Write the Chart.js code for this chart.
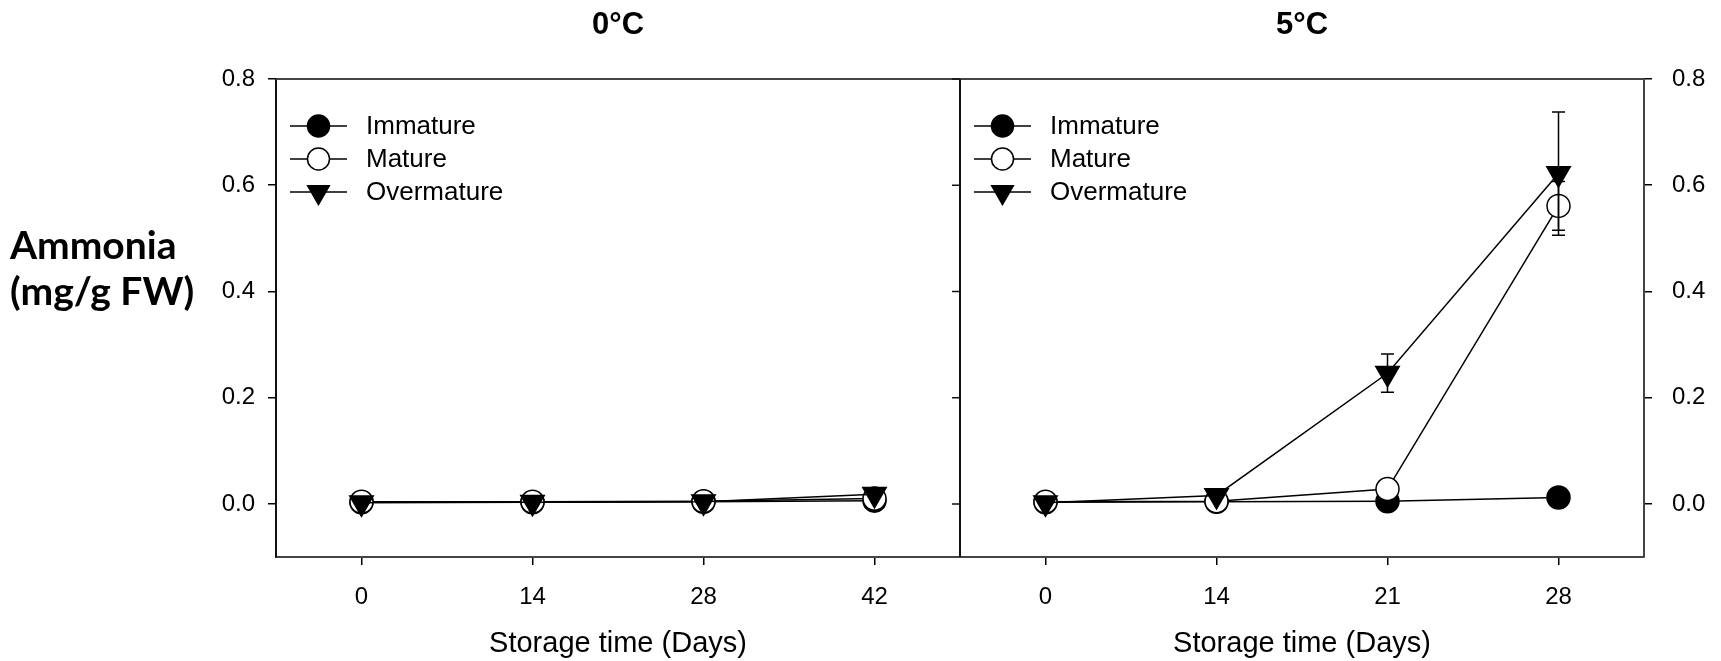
<!DOCTYPE html>
<html>
<head>
<meta charset="utf-8">
<script src="https://cdn.jsdelivr.net/npm/chart.js@4.4.1/dist/chart.umd.min.js"></script>
<style>
  html, body { margin: 0; padding: 0; background: #fff; overflow: hidden; }
  #wrap { position: relative; width: 1721px; height: 661px; }
</style>
</head>
<body>
<div id="wrap"><canvas id="c" width="1721" height="661"></canvas></div>
<script>
// ---- data ----
const days0C = ['0', '14', '28', '42'];
const days5C = ['0', '14', '21', '28'];
const yTicks = [0, 0.2, 0.4, 0.6, 0.8];
const panelTitles = ['0°C', '5°C'];
const xTitle = 'Storage time (Days)';
const yTitleLines = ['Ammonia', '(mg/g FW)'];
const seriesNames = ['Immature', 'Mature', 'Overmature'];

const immature0 = [0.003, 0.003, 0.004, 0.006];
const mature0 = [0.004, 0.004, 0.005, 0.010];
const overmature0 = [0.002, 0.003, 0.004, 0.018];

const immature5 = [0.003, 0.004, 0.005, 0.012];
const mature5 = [0.004, 0.005, 0.028, 0.561];
const overmature5 = [0.002, 0.016, 0.246, 0.622];

const immatureErr5 = [0, 0, 0, 0];
const matureErr5 = [0, 0, 0, 0.046];
const overmatureErr5 = [0, 0, 0.036, 0.116];

// ---- helpers ----
const FONT = "'Liberation Sans', Arial, sans-serif";
const pad4 = [null, null, null, null];
const leftData = a => [...a, ...pad4];
const rightData = a => [...pad4, ...a];

const styles = {
  Immature: { pointStyle: 'circle', rot: 0, r: 11.5, fill: '#000', order: 3 },
  Mature: { pointStyle: 'circle', rot: 0, r: 11.5, fill: '#fff', order: 2 },
  Overmature: { pointStyle: 'triangle', rot: 180, r: 13.5, fill: '#000', order: 1 }
};

function mkDataset(name, data, errs) {
  const s = styles[name];
  return {
    label: name,
    data: data,
    errors: errs,
    borderColor: '#000',
    borderWidth: 1.5,
    backgroundColor: s.fill,
    pointStyle: s.pointStyle,
    pointRotation: s.rot,
    pointRadius: s.r,
    pointHoverRadius: s.r,
    pointBorderWidth: 1.5,
    pointBorderColor: '#000',
    pointBackgroundColor: s.fill,
    tension: 0,
    spanGaps: false,
    order: s.order
  };
}

const datasets = [
  mkDataset('Immature', leftData(immature0), null),
  mkDataset('Mature', leftData(mature0), null),
  mkDataset('Overmature', leftData(overmature0), null),
  mkDataset('Immature', rightData(immature5), rightData(immatureErr5)),
  mkDataset('Mature', rightData(mature5), rightData(matureErr5)),
  mkDataset('Overmature', rightData(overmature5), rightData(overmatureErr5))
];

const fixedTicks = scale => { scale.ticks = yTicks.map(v => ({ value: v })); };

const decoPlugin = {
  id: 'deco',
  afterDatasetsDraw(chart) {
    const ctx = chart.ctx;
    const y = chart.scales.y;
    // error bars
    chart.data.datasets.forEach((ds, di) => {
      if (!ds.errors) return;
      const meta = chart.getDatasetMeta(di);
      ds.errors.forEach((e, i) => {
        if (!e || ds.data[i] == null) return;
        const px = meta.data[i].x;
        const yt = y.getPixelForValue(ds.data[i] + e);
        const yb = y.getPixelForValue(ds.data[i] - e);
        ctx.save();
        ctx.strokeStyle = '#000';
        ctx.lineWidth = 1.5;
        ctx.beginPath();
        ctx.moveTo(px, yt); ctx.lineTo(px, yb);
        ctx.moveTo(px - 6.5, yt); ctx.lineTo(px + 6.5, yt);
        ctx.moveTo(px - 6.5, yb); ctx.lineTo(px + 6.5, yb);
        ctx.stroke();
        ctx.restore();
      });
    });
  },
  afterDraw(chart) {
    const ctx = chart.ctx;
    const ca = chart.chartArea;
    const x = chart.scales.x, y = chart.scales.y;
    const mid = (x.getPixelForValue(3) + x.getPixelForValue(4)) / 2;
    ctx.save();
    // top border
    ctx.strokeStyle = '#444';
    ctx.lineWidth = 2;
    ctx.beginPath();
    ctx.moveTo(ca.left, ca.top); ctx.lineTo(ca.right, ca.top);
    ctx.stroke();
    // middle divider
    ctx.strokeStyle = '#111';
    ctx.beginPath();
    ctx.moveTo(mid, ca.top); ctx.lineTo(mid, ca.bottom);
    ctx.stroke();
    ctx.lineWidth = 1.5;
    ctx.beginPath();
    yTicks.forEach(v => {
      const py = y.getPixelForValue(v);
      ctx.moveTo(mid - 8, py); ctx.lineTo(mid, py);
    });
    ctx.stroke();

    // panel titles and x titles
    const centers = [(ca.left + mid) / 2, (mid + ca.right) / 2];
    ctx.fillStyle = '#000';
    ctx.textAlign = 'center';
    ctx.textBaseline = 'middle';
    centers.forEach((cx, i) => {
      ctx.font = "bold 31px " + FONT;
      ctx.fillText(panelTitles[i], cx, 25);
      ctx.font = "29px " + FONT;
      ctx.fillText(xTitle, cx, 644);
    });

    // y title
    ctx.textAlign = 'left';
    ctx.font = "bold 39px Lato, 'Open Sans', sans-serif";
    ctx.fillText(yTitleLines[0], 10, 246);
    ctx.fillText(yTitleLines[1], 10, 292);

    // legends
    const lefts = [ca.left, mid];
    lefts.forEach(lx => {
      seriesNames.forEach((name, k) => {
        const s = styles[name];
        const ry = ca.top + 47 + k * 33;
        const cx = lx + 42.5;
        ctx.strokeStyle = '#000';
        ctx.lineWidth = 1.5;
        ctx.beginPath();
        ctx.moveTo(lx + 14, ry); ctx.lineTo(lx + 71, ry);
        ctx.stroke();
        ctx.fillStyle = s.fill;
        ctx.beginPath();
        if (s.pointStyle === 'circle') {
          ctx.arc(cx, ry, 11, 0, Math.PI * 2);
        } else {
          const r = 12.5;
          for (let j = 0; j < 3; j++) {
            const a = Math.PI + j * 2 * Math.PI / 3;
            const px = cx + Math.sin(a) * r;
            const py = ry - Math.cos(a) * r;
            if (j === 0) ctx.moveTo(px, py); else ctx.lineTo(px, py);
          }
          ctx.closePath();
        }
        ctx.fill();
        ctx.stroke();
        ctx.fillStyle = '#000';
        ctx.font = "26px " + FONT;
        ctx.textAlign = 'left';
        ctx.fillText(name, lx + 90, ry + 1);
      });
    });
    ctx.restore();
  }
};

new Chart(document.getElementById('c'), {
  type: 'line',
  data: { labels: [...days0C, ...days5C], datasets: datasets },
  options: {
    responsive: false,
    animation: false,
    devicePixelRatio: 1,
    layout: { padding: { top: 79, left: 0, right: 0, bottom: 0 } },
    plugins: { legend: { display: false }, tooltip: { enabled: false }, title: { display: false } },
    scales: {
      x: {
        type: 'category',
        offset: true,
        grid: { drawOnChartArea: false, offset: false, tickLength: 8, color: '#000', lineWidth: 1.5 },
        border: { display: true, color: '#444', width: 2 },
        ticks: { color: '#000', font: { family: FONT, size: 24 }, padding: 18, maxRotation: 0, autoSkip: false },
        afterFit: s => { s.height = 104; }
      },
      y: {
        position: 'left',
        min: -0.1, max: 0.8,
        afterBuildTicks: fixedTicks,
        grid: { drawOnChartArea: false, tickLength: 8, color: '#000', lineWidth: 1.5 },
        border: { display: true, color: '#111', width: 2 },
        ticks: { color: '#000', font: { family: FONT, size: 24 }, padding: 13, callback: v => Number(v).toFixed(1) },
        afterFit: s => { s.width = 276; }
      },
      y2: {
        position: 'right',
        min: -0.1, max: 0.8,
        afterBuildTicks: fixedTicks,
        grid: { drawOnChartArea: false, tickLength: 8, color: '#000', lineWidth: 1.5 },
        border: { display: true, color: '#444', width: 2 },
        ticks: { color: '#000', font: { family: FONT, size: 24 }, padding: 20, callback: v => Number(v).toFixed(1) },
        afterFit: s => { s.width = 77; }
      }
    }
  },
  plugins: [decoPlugin]
});
</script>
</body>
</html>
